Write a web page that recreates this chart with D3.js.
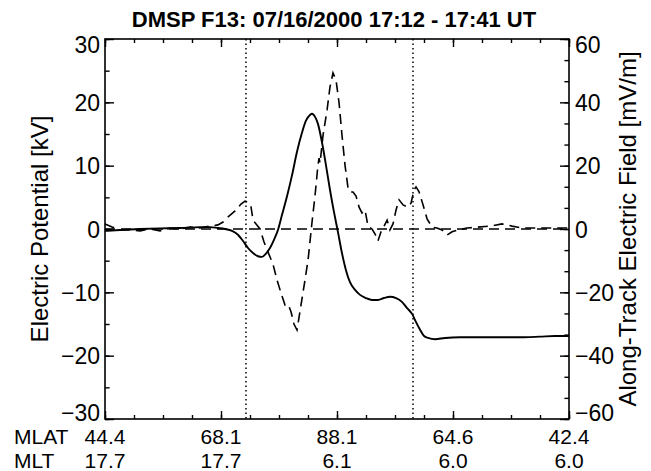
<!DOCTYPE html>
<html><head><meta charset="utf-8">
<script src="https://cdn.jsdelivr.net/npm/d3@7/dist/d3.min.js"></script>
<style>
html,body{margin:0;padding:0;background:#fff;}
svg{display:block;}
text{font-family:"Liberation Sans",Arial,Helvetica,sans-serif;fill:#000;}
</style></head>
<body>
<svg id="c" width="651" height="471"></svg>
<script>
// ---- data (time in minutes after 17:12 UT) ----
const titleText = "DMSP F13: 07/16/2000 17:12 - 17:41 UT";
const potT = [0,0.94,2.19,3.44,4.69,5.94,6.56,7.06,7.5,7.94,8.31,8.63,8.94,9.25,9.56,9.81,10.06,10.31,10.56,10.81,11.06,11.38,11.69,12.0,12.31,12.56,12.81,12.94,13.13,13.31,13.56,13.81,14.06,14.31,14.56,14.81,15.06,15.31,15.63,15.94,16.31,16.69,17.06,17.44,17.81,18.19,18.56,18.88,19.19,19.44,19.69,19.94,20.19,20.63,21.25,22.19,23.44,24.69,25.94,27.19,28.13,29];
const potKV = [-0.3,-0.15,0,0.1,0.15,0.3,0.3,0.15,0,-0.3,-0.9,-1.9,-3.0,-3.8,-4.3,-4.4,-3.9,-3.0,-1.7,-0.15,2.2,5.2,8.5,12.2,15.2,17.1,18.0,18.2,17.7,16.6,13.7,10.1,6.2,2.7,-0.5,-3.8,-6.5,-8.4,-9.6,-10.4,-10.9,-11.2,-11.2,-10.9,-10.7,-10.9,-11.5,-12.5,-13.4,-14.7,-15.9,-16.9,-17.2,-17.4,-17.2,-17.1,-17.1,-17.1,-17.1,-17.0,-16.9,-16.9];
const efT = [0,0.44,0.94,1.56,2.19,2.81,3.44,4.06,4.69,5.31,5.94,6.56,7.06,7.38,7.75,8.13,8.5,8.75,8.94,9.13,9.25,9.44,9.69,9.94,10.19,10.5,10.75,11.0,11.25,11.44,11.63,11.81,12.0,12.25,12.5,12.69,12.94,13.13,13.31,13.38,13.44,13.63,13.88,14.06,14.25,14.44,14.63,14.81,15.0,15.19,15.31,15.5,15.69,15.88,16.06,16.25,16.44,16.69,16.88,17.06,17.25,17.44,17.63,17.81,18.0,18.19,18.38,18.63,18.94,19.13,19.31,19.44,19.63,19.88,20.13,20.44,20.75,21.06,21.38,21.69,22.06,22.63,23.31,24.06,24.81,25.44,26.06,26.88,27.81,29];
const efMV = [1.6,0.6,-0.3,-0.3,-0.6,0,-0.6,0.3,0,0.6,0.3,0.9,1.3,2.2,4.1,5.7,7.9,8.8,8.5,6.9,2.8,1.6,0,-4.1,-7.3,-11.1,-16.1,-20.2,-24,-23.7,-26.2,-30,-31.9,-24,-16.1,-9.8,2.2,10.7,20.2,22.4,20.8,29.7,37.6,44.8,49.3,47,39.8,29.7,20.2,12.9,11.7,11.7,10.4,6.9,5.1,6.0,0.9,0,-1.6,-3.8,-0.9,0.9,2.8,-0.3,1.6,6.0,9.2,7.6,6.9,8.2,12.3,13.3,11.7,7.6,3.2,0.6,0.3,-0.3,-1.9,-0.9,-0.3,0.3,0.6,0.9,1.6,0.9,0.3,0.3,0.3,0.3];
const markerT = [8.81,19.25];
const majorT = [0,7.25,14.5,21.75,29];
const mlatLabels = ["44.4","68.1","88.1","64.6","42.4"];
const mltLabels = ["17.7","17.7","6.1","6.0","6.0"];
const leftTicks = [-30,-20,-10,0,10,20,30];
const rightTicks = [-60,-40,-20,0,20,40,60];

// ---- layout ----
const L=105,R=569,T=39,B=419;
const FS=23, FSrow=21;
const svg=d3.select("#c");
const x=d3.scaleLinear([0,29],[L,R]);
const yL=d3.scaleLinear([-30,30],[B,T]);
const yR=d3.scaleLinear([-60,60],[B,T]);

const minorX=d3.range(0,17).map(i=>i*29/16);
const minorL=d3.range(-30,30.01,5);
const minorR=d3.range(0,19).map(i=>-60+i*20/3);

function styleAxis(g){g.select(".domain").remove();g.selectAll("line").attr("stroke","#000").attr("stroke-width",1.4);}
// end labels sit slightly inside the frame, as in the original
function nudge(lo,hi){return d=>d===hi?5:(d===lo?-7:0);}

// x axes (ticks inward)
svg.append("g").attr("transform",`translate(0,${B})`).call(d3.axisBottom(x).tickValues(minorX).tickSizeInner(-4).tickSizeOuter(0).tickFormat("")).call(styleAxis);
svg.append("g").attr("transform",`translate(0,${B})`).call(d3.axisBottom(x).tickValues(majorT).tickSizeInner(-8).tickSizeOuter(0).tickFormat("")).call(styleAxis);
svg.append("g").attr("transform",`translate(0,${T})`).call(d3.axisTop(x).tickValues(minorX).tickSizeInner(-4).tickSizeOuter(0).tickFormat("")).call(styleAxis);
svg.append("g").attr("transform",`translate(0,${T})`).call(d3.axisTop(x).tickValues(majorT).tickSizeInner(-8).tickSizeOuter(0).tickFormat("")).call(styleAxis);
// left
svg.append("g").attr("transform",`translate(${L},0)`).call(d3.axisLeft(yL).tickValues(minorL).tickSizeInner(-4.6).tickSizeOuter(0).tickFormat("")).call(styleAxis);
const gl=svg.append("g").attr("transform",`translate(${L},0)`).call(d3.axisLeft(yL).tickValues(leftTicks).tickSizeInner(-9).tickSizeOuter(0).tickFormat(d3.format("d"))).call(styleAxis);
const nl=nudge(-30,30);
gl.selectAll("text").attr("font-size",FS).attr("x",-5).attr("y",nl).attr("dy","0.36em").attr("text-anchor","end");
// right
svg.append("g").attr("transform",`translate(${R},0)`).call(d3.axisRight(yR).tickValues(minorR).tickSizeInner(-4.6).tickSizeOuter(0).tickFormat("")).call(styleAxis);
const gr=svg.append("g").attr("transform",`translate(${R},0)`).call(d3.axisRight(yR).tickValues(rightTicks).tickSizeInner(-9).tickSizeOuter(0).tickFormat(d3.format("d"))).call(styleAxis);
const nr=nudge(-60,60);
gr.selectAll("text").attr("font-size",FS).attr("x",6).attr("y",nr).attr("dy","0.36em").attr("text-anchor","start");

// frame
svg.append("rect").attr("x",L).attr("y",T).attr("width",R-L).attr("height",B-T).attr("fill","none").attr("stroke","#000").attr("stroke-width",1.6);

// dotted markers
svg.selectAll(".mk").data(markerT).enter().append("line").attr("x1",d=>x(d)).attr("x2",d=>x(d)).attr("y1",T).attr("y2",B)
  .attr("stroke","#000").attr("stroke-width",1.5).attr("stroke-dasharray","1.5,3");

// zero line (dashed)
svg.append("line").attr("x1",L).attr("x2",R).attr("y1",yR(0)).attr("y2",yR(0)).attr("stroke","#000").attr("stroke-width",1.6).attr("stroke-dasharray","10,6");

// E field dashed
const efData=efT.map((t,i)=>[t,efMV[i]]);
svg.append("path").datum(efData).attr("fill","none").attr("stroke","#000").attr("stroke-width",1.6).attr("stroke-dasharray","10,6")
  .attr("d",d3.line().x(d=>x(d[0])).y(d=>yR(d[1])));
// potential solid
const potData=potT.map((t,i)=>[t,potKV[i]]);
svg.append("path").datum(potData).attr("fill","none").attr("stroke","#000").attr("stroke-width",1.9)
  .attr("d",d3.line().x(d=>x(d[0])).y(d=>yL(d[1])).curve(d3.curveMonotoneX));

// title
svg.append("text").attr("x",(L+R)/2-3).attr("y",27).attr("text-anchor","middle").attr("font-size",22).attr("font-weight","bold").text(titleText);
// axis titles
svg.append("text").attr("transform",`translate(48,${(T+B)/2}) rotate(-90)`).attr("text-anchor","middle").attr("font-size",24).text("Electric Potential [kV]");
svg.append("text").attr("transform",`translate(636,${(T+B)/2}) rotate(-90)`).attr("text-anchor","middle").attr("font-size",24).text("Along-Track Electric Field [mV/m]");
// bottom label rows
const row1=444, row2=467.5;
svg.append("text").attr("x",14).attr("y",row1).attr("font-size",FSrow).text("MLAT");
svg.append("text").attr("x",14).attr("y",row2).attr("font-size",FSrow).text("MLT");
svg.selectAll(".mlat").data(majorT).enter().append("text").attr("x",d=>x(d)).attr("y",row1).attr("text-anchor","middle").attr("font-size",FSrow).text((d,i)=>mlatLabels[i]);
svg.selectAll(".mlt").data(majorT).enter().append("text").attr("x",d=>x(d)).attr("y",row2).attr("text-anchor","middle").attr("font-size",FSrow).text((d,i)=>mltLabels[i]);
</script>
</body></html>
